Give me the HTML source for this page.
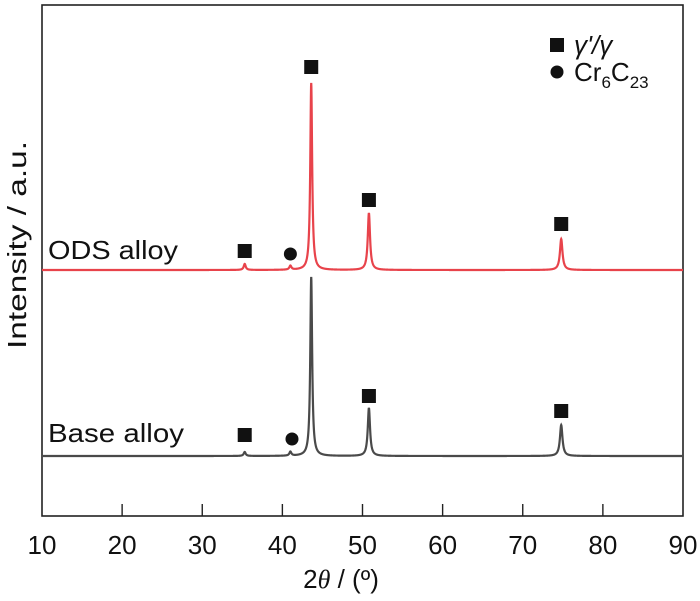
<!DOCTYPE html>
<html><head><meta charset="utf-8"><style>
body{margin:0;background:#fff;}
svg text{font-family:"Liberation Sans",Arial,sans-serif;fill:#111;}
</style></head><body>
<svg width="700" height="596" viewBox="0 0 700 596">
<rect x="42" y="5" width="641" height="511" fill="none" stroke="#222" stroke-width="1.6"/>
<g id="ticks"></g>
<g id="series"></g>
<g id="markers"></g>
<text x="48" y="259" font-size="26" textLength="130" lengthAdjust="spacingAndGlyphs">ODS alloy</text>
<text x="48" y="442" font-size="26" textLength="136" lengthAdjust="spacingAndGlyphs">Base alloy</text>
<text transform="translate(26,245) rotate(-90)" text-anchor="middle" font-size="26" textLength="208" lengthAdjust="spacingAndGlyphs">Intensity / a.u.</text>
<text x="341" y="588" text-anchor="middle" font-size="26">2<tspan font-family="Liberation Serif" font-style="italic">θ</tspan> / (º)</text>
<g>
<rect x="550" y="38" width="14" height="14" fill="#111"/>
<text x="574" y="54" font-size="26" font-family="Liberation Serif" font-style="italic">γ'/γ</text>
<circle cx="557" cy="72" r="6.5" fill="#111"/>
<text x="574" y="81" font-size="26">Cr<tspan font-size="17" dy="7">6</tspan><tspan dy="-7">C</tspan><tspan font-size="17" dy="7">23</tspan></text>
</g>
</svg>
<script>
const xTicks=[10,20,30,40,50,60,70,80,90];
const peakPos=[35.3,41.0,43.6,50.8,74.8];
const peakWidth=[0.15,0.15,0.14,0.17,0.19];
const odsHeights=[6,4,187,57,31];
const baseHeights=[4,4,179,48,31];
const odsOffset=246, baseOffset=60;
const odsMarkers=[[35.3,19,'s'],[41.0,16,'c'],[43.6,203,'s'],[50.8,70,'s'],[74.8,46,'s']];
const baseMarkers=[[35.3,21,'s'],[41.2,17,'c'],[50.8,60,'s'],[74.8,45,'s']];
const X=v=>42+(v-10)*(641/80);
const Y=v=>516-v;
const ns='http://www.w3.org/2000/svg';
const tg=document.getElementById('ticks');
xTicks.forEach(t=>{
 if(t>10&&t<90){const l=document.createElementNS(ns,'line');
 l.setAttribute('x1',X(t));l.setAttribute('x2',X(t));l.setAttribute('y1',516);l.setAttribute('y2',504);
 l.setAttribute('stroke','#222');l.setAttribute('stroke-width','1.4');
 
 tg.appendChild(l);}
 const tx=document.createElementNS(ns,'text');
 tx.setAttribute('x',X(t));tx.setAttribute('y',554);tx.setAttribute('text-anchor','middle');tx.setAttribute('font-size','26');
 tx.textContent=t;
 
 tg.appendChild(tx);
});
function curve(h,off){let d='';for(let x=10;x<=90;x+=0.02){let s=0;for(let i=0;i<peakPos.length;i++){const u=(x-peakPos[i])/peakWidth[i];s+=h[i]/(1+u*u);}d+=(d?'L':'M')+X(x).toFixed(2)+' '+Y(off+s).toFixed(2);}return d;}
const sg=document.getElementById('series');
[[odsHeights,odsOffset,'#e8434b','ods-pattern'],[baseHeights,baseOffset,'#4a4a4a','base-pattern']].forEach(([h,o,c,n])=>{
 const p=document.createElementNS(ns,'path');p.setAttribute('d',curve(h,o));p.setAttribute('fill','none');p.setAttribute('stroke',c);p.setAttribute('stroke-width','2.2');
 
 sg.appendChild(p);
});
const mg=document.getElementById('markers');
[[odsMarkers,odsOffset],[baseMarkers,baseOffset]].forEach(([m,o])=>m.forEach(([x,dy,t])=>{
 let e;if(t==='s'){e=document.createElementNS(ns,'rect');e.setAttribute('x',X(x)-7);e.setAttribute('y',Y(o+dy)-7);e.setAttribute('width',14);e.setAttribute('height',14);
 }
 else{e=document.createElementNS(ns,'circle');e.setAttribute('cx',X(x));e.setAttribute('cy',Y(o+dy));e.setAttribute('r',6.5);
 }
 e.setAttribute('fill','#111');
 mg.appendChild(e);
}));
</script>
</body></html>
